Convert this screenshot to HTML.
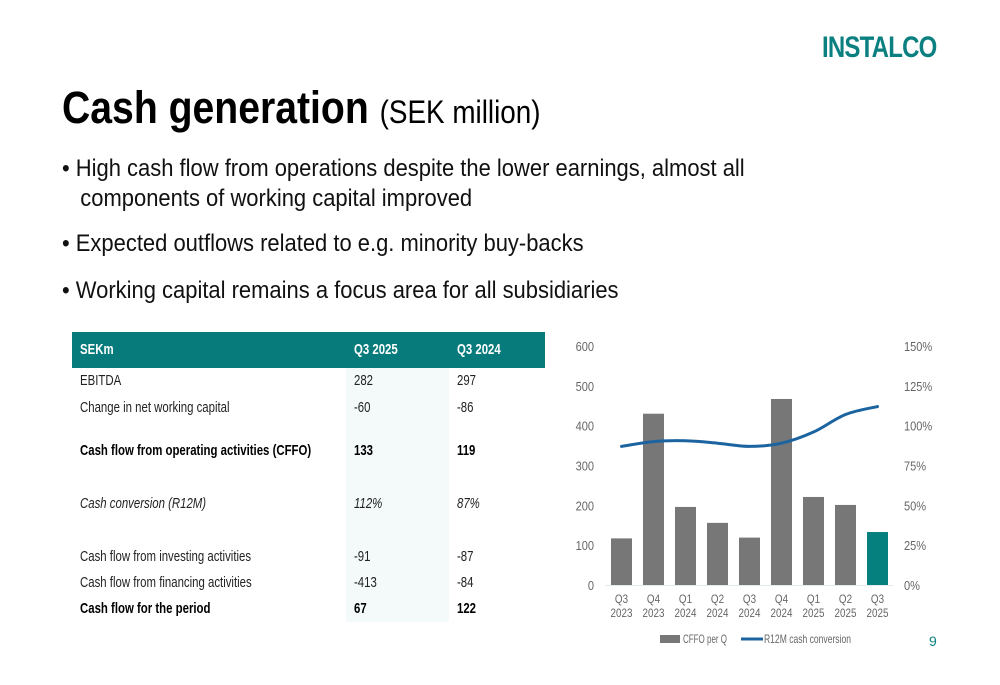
<!DOCTYPE html>
<html><head><meta charset="utf-8">
<style>
body{margin:0;width:1000px;height:685px;background:#fff;position:relative;overflow:hidden;font-family:"Liberation Sans",sans-serif;color:#111}
.abs{position:absolute;white-space:nowrap;transform-origin:0 0}
.logo{left:822px;top:31px;font-size:30px;font-weight:bold;color:#0c8080;letter-spacing:-1px;transform:scaleX(0.8)}
.title{left:62px;top:82px;font-size:45px;font-weight:bold;color:#000;transform:scaleX(0.87)}
.title span{font-size:32px;font-weight:normal}
.bul{left:62px;font-size:24px;color:#111;line-height:30px;transform:scaleX(0.915)}
.t{position:absolute;white-space:nowrap;font-size:15px;color:#222;transform:scaleX(0.76);transform-origin:0 50%;line-height:18px}
.bd{font-weight:bold;color:#000}
.it{font-style:italic}
</style></head><body>
<div class="abs logo">INSTALCO</div>
<div class="abs title">Cash generation <span>(SEK million)</span></div>
<div class="abs bul" style="top:154px">• High cash flow from operations despite the lower earnings, almost all<br>&nbsp;&nbsp;&nbsp;components of working capital improved</div>
<div class="abs bul" style="top:229px">• Expected outflows related to e.g. minority buy-backs</div>
<div class="abs bul" style="top:276px">• Working capital remains a focus area for all subsidiaries</div>

<div>
<div class="abs" style="left:72px;top:332px;width:473px;height:36px;background:#077b7b"></div>
<div class="abs" style="left:346px;top:368px;width:103px;height:254px;background:#f4fafa"></div>
<div class="t bd" style="left:80px;top:341px;color:#fff">SEKm</div>
<div class="t bd" style="left:354px;top:341px;color:#fff">Q3 2025</div>
<div class="t bd" style="left:457px;top:341px;color:#fff">Q3 2024</div>

<div class="t" style="left:80px;top:372px">EBITDA</div>
<div class="t" style="left:354px;top:372px">282</div>
<div class="t" style="left:457px;top:372px">297</div>

<div class="t" style="left:80px;top:399px">Change in net working capital</div>
<div class="t" style="left:354px;top:399px">-60</div>
<div class="t" style="left:457px;top:399px">-86</div>

<div class="t bd" style="left:80px;top:442px">Cash flow from operating activities (CFFO)</div>
<div class="t bd" style="left:354px;top:442px">133</div>
<div class="t bd" style="left:457px;top:442px">119</div>

<div class="t it" style="left:80px;top:495px">Cash conversion (R12M)</div>
<div class="t it" style="left:354px;top:495px">112%</div>
<div class="t it" style="left:457px;top:495px">87%</div>

<div class="t" style="left:80px;top:548px">Cash flow from investing activities</div>
<div class="t" style="left:354px;top:548px">-91</div>
<div class="t" style="left:457px;top:548px">-87</div>

<div class="t" style="left:80px;top:574px">Cash flow from financing activities</div>
<div class="t" style="left:354px;top:574px">-413</div>
<div class="t" style="left:457px;top:574px">-84</div>

<div class="t bd" style="left:80px;top:600px">Cash flow for the period</div>
<div class="t bd" style="left:354px;top:600px">67</div>
<div class="t bd" style="left:457px;top:600px">122</div>
</div>

<svg id="chart" class="abs" style="left:0;top:0" width="1000" height="685"></svg>
<div class="abs" style="left:929px;top:633px;font-size:14px;color:#0c8080">9</div>

<script>
const categories=["Q3|2023","Q4|2023","Q1|2024","Q2|2024","Q3|2024","Q4|2024","Q1|2025","Q2|2025","Q3|2025"];
const cffo=[117,430,196,156,119,467,221,201,133];
const conversion=[87,90,90.5,89,87,89,96,107,112];
const leftTicks=[0,100,200,300,400,500,600];
const rightTicks=[0,25,50,75,100,125,150];
const NS="http://www.w3.org/2000/svg";
const svg=document.getElementById('chart');
const y0=585,yTop=346,x0=621.5,step=32,bw=21;
const yL=v=>y0-(v/600)*(y0-yTop);
const yR=v=>y0-(v/150)*(y0-yTop);
const xC=i=>x0+i*step;
const FF='Liberation Sans,sans-serif';
function mk(t,a){const e=document.createElementNS(NS,t);for(const k in a)e.setAttribute(k,a[k]);svg.appendChild(e);return e;}
leftTicks.forEach(v=>{const t=mk('text',{x:594,y:yL(v)+5,'text-anchor':'end','font-size':13,fill:'#666','font-family':FF,transform:'translate(594 0) scale(0.85 1) translate(-594 0)'});t.textContent=v;

});
rightTicks.forEach(v=>{const t=mk('text',{x:904,y:yR(v)+5,'font-size':13,fill:'#666','font-family':FF,transform:'translate(904 0) scale(0.85 1) translate(-904 0)'});t.textContent=v+'%';

});
const ax=mk('line',{x1:605,x2:893,y1:y0+0.5,y2:y0+0.5,stroke:'#e3ecec','stroke-width':1});


cffo.forEach((v,i)=>{const r=mk('rect',{x:xC(i)-bw/2,y:yL(v),width:bw,height:y0-yL(v),fill:i===cffo.length-1?'#067f7f':'#777777'});

});
categories.forEach((c,i)=>{const p=c.split('|');[0,1].forEach(k=>{const cx=xC(i);const t=mk('text',{x:cx,y:603+k*14,'text-anchor':'middle','font-size':12,fill:'#666','font-family':FF,transform:'translate('+cx+' 0) scale(0.82 1) translate('+(-cx)+' 0)'});t.textContent=p[k];

});});
const pts=conversion.map((v,i)=>[xC(i),yR(v)]);
let d='M'+pts[0][0]+','+pts[0][1];
for(let i=0;i<pts.length-1;i++){const p0=pts[i-1]||pts[i],p1=pts[i],p2=pts[i+1],p3=pts[i+2]||p2;
const c1=[p1[0]+(p2[0]-p0[0])/6,p1[1]+(p2[1]-p0[1])/6],c2=[p2[0]-(p3[0]-p1[0])/6,p2[1]-(p3[1]-p1[1])/6];
d+=' C'+c1+' '+c2+' '+p2;}
const ln=mk('path',{d:d,fill:'none',stroke:'#1c64a0','stroke-width':3,'stroke-linecap':'round'});


const lg1=mk('rect',{x:660,y:635,width:20,height:8,fill:'#777'});


const lt1=mk('text',{x:683,y:643,'font-size':12,fill:'#666','font-family':FF,textLength:44,lengthAdjust:'spacingAndGlyphs'});lt1.textContent='CFFO per Q';


const lg2=mk('line',{x1:741,x2:763,y1:639,y2:639,stroke:'#1c64a0','stroke-width':3});


const lt2=mk('text',{x:764,y:643,'font-size':12,fill:'#666','font-family':FF,textLength:87,lengthAdjust:'spacingAndGlyphs'});lt2.textContent='R12M cash conversion';


</script>
</body></html>
